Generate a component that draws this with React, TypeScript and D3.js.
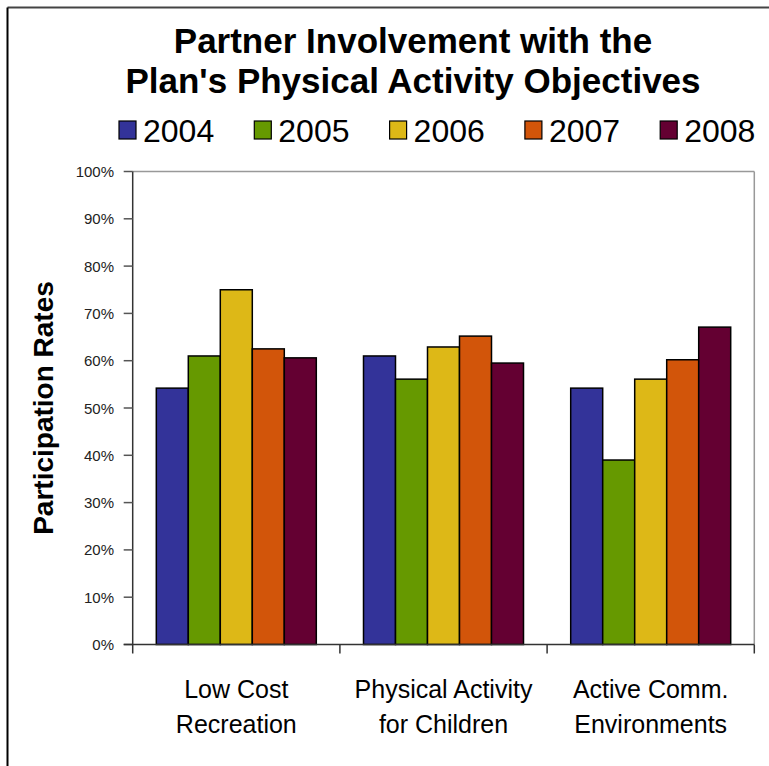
import React from "react";
import * as d3 from "d3";

const categories = [["Low Cost", "Recreation"], ["Physical Activity", "for Children"], ["Active Comm.", "Environments"]];
const categoryKeys = ["Low Cost Recreation", "Physical Activity for Children", "Active Comm. Environments"];
const years = ["2004", "2005", "2006", "2007", "2008"];
const colors = ["#333399", "#669900", "#DDB817", "#D2550A", "#640032"];
const values2004 = [54.2, 61.0, 54.2];
const values2005 = [61.0, 56.1, 39.0];
const values2006 = [75.0, 62.9, 56.1];
const values2007 = [62.5, 65.2, 60.2];
const values2008 = [60.6, 59.5, 67.1];
const series = [values2004, values2005, values2006, values2007, values2008];
const yTicks = [0, 10, 20, 30, 40, 50, 60, 70, 80, 90, 100];

const W = 769, H = 766;
const plot = { left: 132.7, right: 754.3, top: 171.5, bottom: 644.5 };
const FONT = "'Liberation Sans', Arial, sans-serif";

export default function App() {
  const x0 = d3.scaleBand().domain(categoryKeys).range([plot.left, plot.right]).paddingInner(0).paddingOuter(0);
  const groupW = 160;
  const x1 = d3.scaleBand().domain(years).range([0, groupW]).padding(0);
  const y = d3.scaleLinear().domain([0, 100]).range([plot.bottom, plot.top]);
  const bw = x0.bandwidth();
  const boundaries = [plot.left, ...categoryKeys.map(k => (x0(k) as number) + bw)];

  return (
    <svg width={W} height={H} style={{ position: "absolute", left: 0, top: 0, background: "#fff" }}>
      <rect x={0} y={0} width={W} height={H} fill="#fff" />
      {/* outer frame (top + left) */}
      <line x1={7.5} y1={7.5} x2={W} y2={7.5} stroke="#444" strokeWidth={2} />
      <line x1={7.5} y1={7.5} x2={7.5} y2={H} stroke="#000" strokeWidth={2} />

      {/* title */}
      <text x={413} y={53} textAnchor="middle" fontFamily={FONT} fontWeight="bold" fontSize={35}>Partner Involvement with the</text>
      <text x={413} y={93} textAnchor="middle" fontFamily={FONT} fontWeight="bold" fontSize={35}>Plan's Physical Activity Objectives</text>

      {/* legend */}
      {years.map((yr, i) => {
        const lx = 119 + i * 135.3;
        return (
          <g key={yr}>
            <rect x={lx} y={121} width={17} height={18} fill={colors[i]} stroke="#000" strokeWidth={1.2} />
            <text x={lx + 24} y={142} fontFamily={FONT} fontSize={32}>{yr}</text>
          </g>
        );
      })}

      {/* plot area border (top/right gray) */}
      <line x1={plot.left} y1={plot.top} x2={plot.right} y2={plot.top} stroke="#999" strokeWidth={1.5} />
      <line x1={plot.right} y1={plot.top} x2={plot.right} y2={plot.bottom} stroke="#999" strokeWidth={1.5} />

      {/* bars */}
      {categoryKeys.map((cat, ci) => {
        const gx = (x0(cat) as number) + (bw - groupW) / 2;
        return (
          <g key={cat}>
            {years.map((yr, si) => {
              const v = series[si][ci];
              return (
                <rect key={yr} x={gx + (x1(yr) as number)} y={y(v)} width={x1.bandwidth()} height={y(0) - y(v)}
                  fill={colors[si]} stroke="#000" strokeWidth={1.5} />
              );
            })}
          </g>
        );
      })}

      {/* y axis */}
      <line x1={plot.left} y1={plot.top} x2={plot.left} y2={plot.bottom} stroke="#333" strokeWidth={1.5} />
      {yTicks.map(t => (
        <g key={t}>
          <line x1={plot.left - 9} x2={plot.left} y1={y(t)} y2={y(t)} stroke="#555" strokeWidth={1.5} />
          <text x={114} y={y(t) + 5.5} textAnchor="end" fontFamily={FONT} fontSize={15} fill="#222">{t + "%"}</text>
        </g>
      ))}

      {/* x axis */}
      <line x1={plot.left - 9} y1={plot.bottom} x2={plot.right} y2={plot.bottom} stroke="#333" strokeWidth={1.5} />
      {boundaries.map((b, i) => (
        <line key={i} x1={b} x2={b} y1={plot.bottom} y2={plot.bottom + 9} stroke="#333" strokeWidth={1.5} />
      ))}
      {categoryKeys.map((cat, ci) => {
        const cx = (x0(cat) as number) + bw / 2;
        return (
          <g key={cat}>
            <text x={cx} y={698} textAnchor="middle" fontFamily={FONT} fontSize={25}>{categories[ci][0]}</text>
            <text x={cx} y={733} textAnchor="middle" fontFamily={FONT} fontSize={25}>{categories[ci][1]}</text>
          </g>
        );
      })}

      {/* y axis title */}
      <text transform={`translate(53, 408) rotate(-90)`} textAnchor="middle" fontFamily={FONT} fontWeight="bold" fontSize={28}>Participation Rates</text>
    </svg>
  );
}
